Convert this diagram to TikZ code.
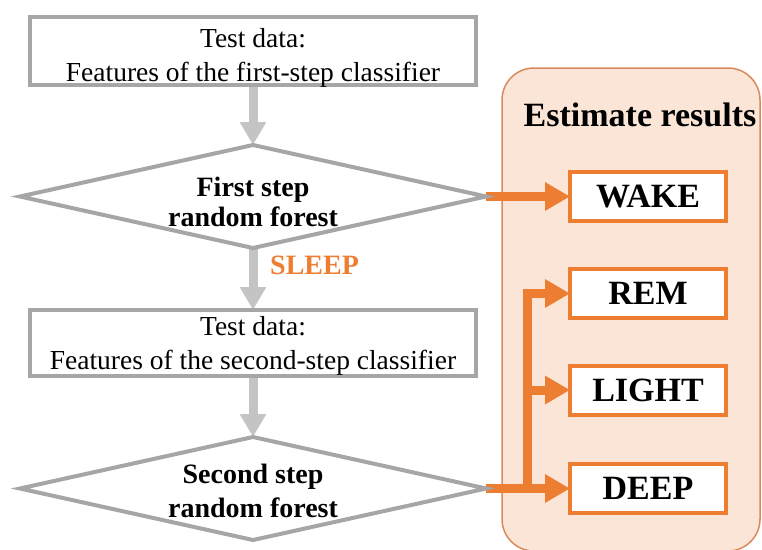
\documentclass[tikz,border=0pt]{standalone}
\usepackage{fontspec}
\setmainfont{Liberation Serif}
\usetikzlibrary{arrows.meta,shapes.geometric}

\definecolor{boxgray}{HTML}{A6A6A6}
\definecolor{arrgray}{HTML}{C4C4C4}
\definecolor{accent}{HTML}{ED7D31}
\definecolor{peach}{HTML}{FBE5D6}
\definecolor{panelline}{HTML}{D98A5C}

\pgfdeclarelayer{panel}
\pgfdeclarelayer{links}
\pgfsetlayers{panel,links,main}

\begin{document}
\begin{tikzpicture}[x=1pt,y=-1pt,
  databox/.style={draw=boxgray, line width=4.5pt, fill=white,
    minimum width=446pt, minimum height=68pt, inner sep=0pt, outer sep=0pt},
  datatext/.style={inner sep=0pt, align=center,
    font=\fontsize{27.5}{34}\selectfont},
  decision/.style={diamond, draw=boxgray, line width=4pt,
    minimum width=466pt, minimum height=103pt, inner sep=0pt, outer sep=0pt},
  decisiontext/.style={inner sep=0pt, align=center,
    font=\fontsize{28}{#1}\selectfont\bfseries},
  result/.style={draw=accent, fill=white, line width=4pt,
    minimum width=156pt, minimum height=49pt, inner sep=0pt, outer sep=0pt,
    font=\fontsize{34}{40}\selectfont\bfseries},
  grayarrow/.style={draw=arrgray, line width=9pt,
    -{Triangle[length=23pt,width=25pt]}},
  orangearrow/.style={draw=accent, line width=9pt,
    -{Triangle[length=25pt,width=27pt]}},
]
\useasboundingbox (0,0) rectangle (762,549);

% results panel, running past the right and bottom edges
\begin{pgfonlayer}{panel}
  \clip (0,0) rectangle (762,549);
  \filldraw[fill=peach, draw=panelline, line width=1.5pt, rounded corners=32pt]
    (502,68) rectangle (760,551);
\end{pgfonlayer}

% left column: inputs and classifiers
\node[databox] (in1) at (253,51) {};
\node[datatext] (in1txt) at (253,57.5) {Test data:\\Features of the first-step classifier};

\node[decision] (rf1) at (253,196.5) {};
\node[decisiontext=30] (rf1txt) at (253,202) {First step\\random forest};

\node[inner sep=0pt, anchor=west, text=accent,
  font=\fontsize{28}{34}\selectfont\bfseries] (sleep) at (270,265.5) {SLEEP};

\node[databox, minimum height=66pt] (in2) at (253,343) {};
\node[datatext] (in2txt) at (253,346) {Test data:\\Features of the second-step classifier};

\node[decision] (rf2) at (253,488.5) {};
\node[decisiontext=34] (rf2txt) at (253,490.5) {Second step\\random forest};

% right column: estimated stages
\node[inner sep=0pt, font=\fontsize{34}{40}\selectfont\bfseries] (title) at (640,115) {Estimate results};
\node[result] (wake)  at (648,196.5) {WAKE};
\node[result] (rem)   at (648,293.5) {REM};
\node[result] (light) at (648,390)   {LIGHT};
\node[result] (deep)  at (648,488.5) {DEEP};

\coordinate (trunk) at (527.5,0);

\begin{pgfonlayer}{links}
  \draw[grayarrow] (in1.south) -- (rf1.north);
  \draw[grayarrow] (rf1.south) -- (in2.north);
  \draw[grayarrow] (in2.south) -- (rf2.north);

  \draw[orangearrow] (rf1.east) -- (wake.west);
  \draw[orangearrow] (rf2.east) -- (deep.west);
  \draw[orangearrow] (trunk |- rf2.east) |- (rem.west);
  \draw[orangearrow] (trunk |- light.west) -- (light.west);
\end{pgfonlayer}
\end{tikzpicture}
\end{document}
